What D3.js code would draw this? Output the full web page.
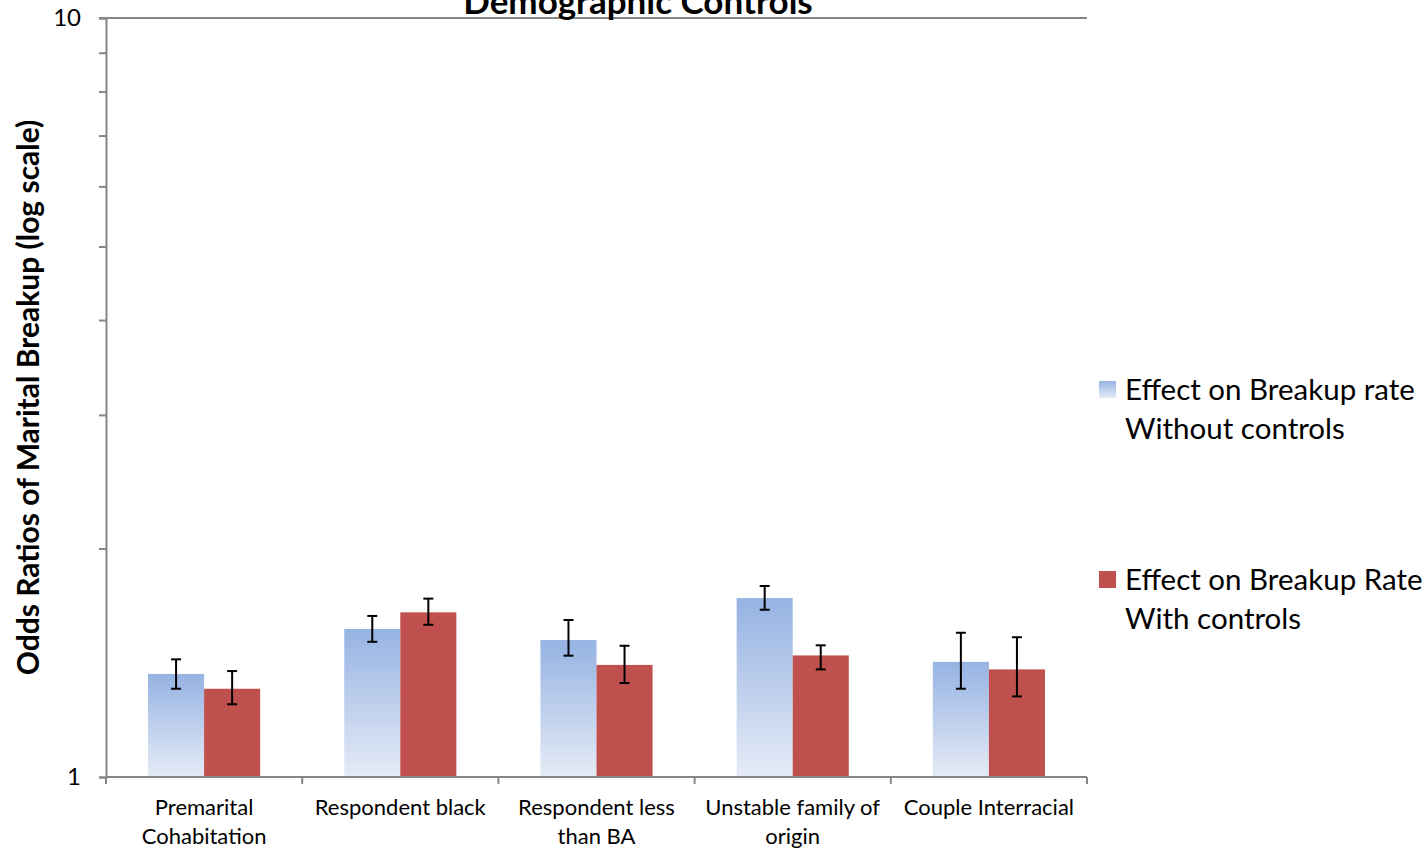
<!DOCTYPE html>
<html>
<head>
<meta charset="utf-8">
<script src="https://cdn.jsdelivr.net/npm/d3@7"></script>
<style>
  body { margin: 0; background: #fff; }
  svg { font-family: Lato, "Open Sans", sans-serif; display: block; }
</style>
</head>
<body>
<svg width="1428" height="852"></svg>
<script>
// data
var categories = ["Premarital Cohabitation", "Respondent black", "Respondent less than BA", "Unstable family of origin", "Couple Interracial"];
var seriesNames = ["Effect on Breakup rate Without controls", "Effect on Breakup Rate With controls"];
var withoutValues = [1.367, 1.567, 1.515, 1.721, 1.418];
var withoutLow = [1.307, 1.507, 1.445, 1.661, 1.307];
var withoutHigh = [1.429, 1.630, 1.610, 1.785, 1.549];
var withValues = [1.307, 1.648, 1.405, 1.446, 1.386];
var withLow = [1.247, 1.587, 1.330, 1.386, 1.277];
var withHigh = [1.379, 1.718, 1.489, 1.491, 1.528];
var yTicks = [1, 2, 3, 4, 5, 6, 7, 8, 9, 10];

var svg = d3.select("svg"),
    margin = {top: 18, right: 341, bottom: 75, left: 106},
    width = +svg.attr("width") - margin.left - margin.right,
    height = +svg.attr("height") - margin.top - margin.bottom;

var axisColor = "#868686";

var x = d3.scaleBand().domain(categories).range([0, width]);
var xs = d3.scaleBand().domain([0, 1]).range([0, x.bandwidth()]).paddingOuter(0.75);
var y = d3.scaleLog().domain([1, 10]).range([height, 0]);

// gradient for the blue series
var defs = svg.append("defs");
var grad = defs.append("linearGradient")
    .attr("id", "blueGrad")
    .attr("x1", 0).attr("y1", 0).attr("x2", 0).attr("y2", 1);
grad.append("stop").attr("offset", "0%").attr("stop-color", "#96b3e3");
grad.append("stop").attr("offset", "100%").attr("stop-color", "#e5ebf6");

var g = svg.append("g")
    .attr("transform", "translate(" + margin.left + "," + margin.top + ")");

// title (top is clipped in the original)
svg.append("text")
    .attr("x", 638)
    .attr("y", 14)
    .attr("text-anchor", "middle")
    .style("font-weight", "bold")
    .style("font-size", "35px")
    .text("Demographic Controls");

// top border line
g.append("line")
    .attr("x1", -7).attr("x2", width)
    .attr("y1", y(10)).attr("y2", y(10))
    .attr("stroke", axisColor).attr("stroke-width", 2);

// y axis
var yAxis = g.append("g")
    .attr("class", "axis axis--y")
    .call(d3.axisLeft(y).tickValues(yTicks).tickSize(7).tickPadding(18)
        .tickFormat(function (d) { return (d === 1 || d === 10) ? d : ""; }));
yAxis.select(".domain").attr("stroke", axisColor).attr("stroke-width", 2);
yAxis.selectAll(".tick line").attr("stroke", axisColor).attr("stroke-width", 2);
yAxis.selectAll(".tick text")
    .style("font-family", "Lato, sans-serif")
    .style("font-size", "24px")
    .attr("fill", "#000");

// y axis title
svg.append("text")
    .attr("transform", "translate(39," + (margin.top + height / 2) + ") rotate(-90)")
    .attr("text-anchor", "middle")
    .style("font-weight", "bold")
    .style("font-size", "30px")
    .text("Odds Ratios of Marital Breakup (log scale)");

// bars
var groups = g.selectAll(".cat")
    .data(categories)
    .enter().append("g")
    .attr("class", "cat")
    .attr("transform", function (d) { return "translate(" + x(d) + ",0)"; });

var seriesData = [
    {vals: withoutValues, lo: withoutLow, hi: withoutHigh, fill: "url(#blueGrad)"},
    {vals: withValues, lo: withLow, hi: withHigh, fill: "#c0504d"}
];

groups.each(function (c, i) {
    var cg = d3.select(this);
    seriesData.forEach(function (s, k) {
        cg.append("rect")
            .attr("x", xs(k))
            .attr("y", y(s.vals[i]))
            .attr("width", xs.bandwidth())
            .attr("height", height - y(s.vals[i]))
            .attr("fill", s.fill);
    });
    seriesData.forEach(function (s, k) {
        var cx = xs(k) + xs.bandwidth() / 2;
        var eg = cg.append("g").attr("stroke", "#000").attr("stroke-width", 2);
        eg.append("line").attr("x1", cx).attr("x2", cx).attr("y1", y(s.lo[i])).attr("y2", y(s.hi[i]));
        eg.append("line").attr("x1", cx - 5).attr("x2", cx + 5).attr("y1", y(s.lo[i])).attr("y2", y(s.lo[i]));
        eg.append("line").attr("x1", cx - 5).attr("x2", cx + 5).attr("y1", y(s.hi[i])).attr("y2", y(s.hi[i]));
    });
});

// x axis line and boundary ticks
g.append("line")
    .attr("x1", 0).attr("x2", width)
    .attr("y1", height).attr("y2", height)
    .attr("stroke", axisColor).attr("stroke-width", 2);
var bounds = categories.map(function (d) { return x(d); }).concat([width]);
g.selectAll(".xtick")
    .data(bounds)
    .enter().append("line")
    .attr("class", "xtick")
    .attr("x1", function (d) { return d; }).attr("x2", function (d) { return d; })
    .attr("y1", height).attr("y2", height + 7)
    .attr("stroke", axisColor).attr("stroke-width", 2);

// category labels, wrapped to the band width
groups.append("text")
    .attr("class", "catlabel")
    .attr("text-anchor", "middle")
    .style("font-size", "22px")
    .each(function (d) {
        var t = d3.select(this);
        var words = d.split(" "), lines = [], line = [];
        var cx = x.bandwidth() / 2;
        var probe = t.append("tspan");
        words.forEach(function (w) {
            line.push(w);
            probe.text(line.join(" "));
            if (probe.node().getComputedTextLength() > x.bandwidth() - 8 && line.length > 1) {
                line.pop();
                lines.push(line.join(" "));
                line = [w];
            }
        });
        lines.push(line.join(" "));
        probe.remove();
        lines.forEach(function (l, j) {
            t.append("tspan").attr("x", cx).attr("y", height + 38 + j * 29).text(l);
        });
    });

// legend
var legend = svg.append("g").attr("transform", "translate(1099,0)");
var legendY = [381, 571];
seriesNames.forEach(function (name, k) {
    legend.append("rect")
        .attr("x", 0).attr("y", legendY[k])
        .attr("width", 17).attr("height", 17)
        .attr("fill", seriesData[k].fill);
    var words = name.split(" ");
    var first = words.slice(0, 4).join(" "), second = words.slice(4).join(" ");
    var t = legend.append("text").style("font-size", "29.5px");
    t.append("tspan").attr("x", 26).attr("y", legendY[k] + 19).text(first);
    t.append("tspan").attr("x", 26).attr("y", legendY[k] + 58).text(second);
});
</script>
</body>
</html>
